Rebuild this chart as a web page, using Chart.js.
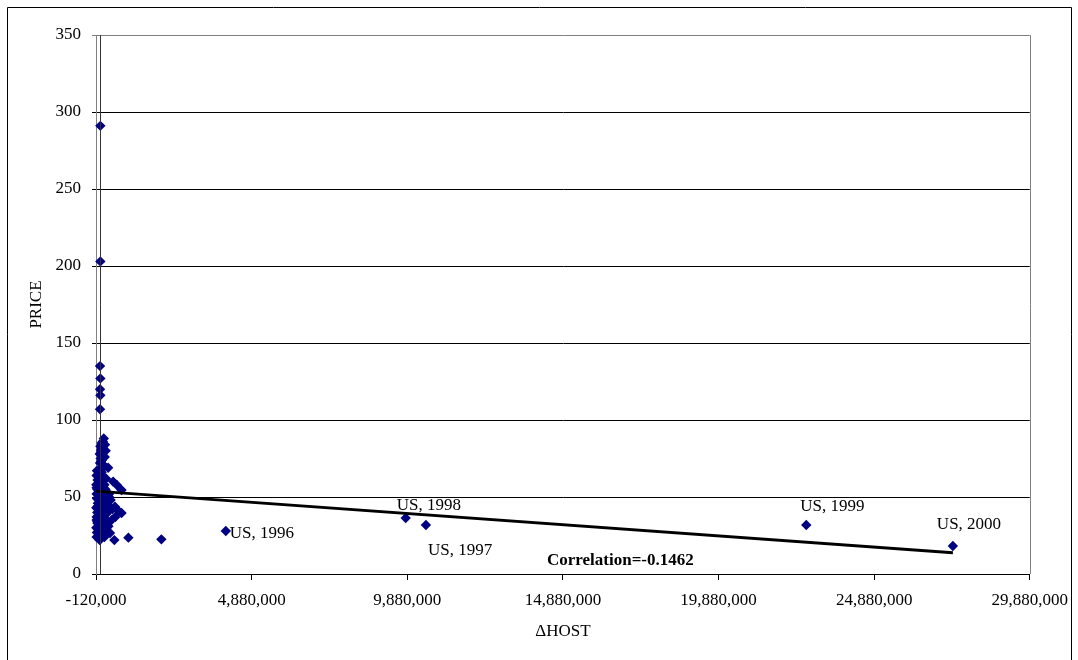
<!DOCTYPE html>
<html>
<head>
<meta charset="utf-8">
<script src="https://cdn.jsdelivr.net/npm/chart.js@4.4.1/dist/chart.umd.min.js"></script>
<style>
html,body{margin:0;padding:0;background:#fff;}
#wrap{width:1078px;height:660px;position:relative;}
</style>
</head>
<body>
<div id="wrap"><canvas id="c" width="1078" height="660"></canvas></div>
<script>
// ---- data ----
const otherHost = [
  20000, 20000, 10000, 20000, 10000, 20000, 10000,
  -80000, -100000, -50000, -60000, -100000, -30000, 0, -20000, 0, 20000, 10000, 30000, 0, 50000, 20000, 80000, 100000, 50000,
  0, 30000, 60000, 100000, 0, 40000, 80000, -20000, 120000, 20000, 60000, 100000, 0, 50000, 130000, -40000, 30000, 90000, 150000, 0,
  70000, 120000, 20000, 60000, 100000, -30000, 40000, 140000, 0, 80000, 180000, 20000, 100000, 50000, 150000, 0, 60000, 100000, 40000, 70000,
  270000, 430000, 700000, 550000, 300000, 200000, 490000, 700000, 500000, 380000, 330000, 470000, 250000, 220000, 350000, 280000, 200000,
  400000, 600000, 300000, 150000, 920000, 1980000,
  -100000, -90000, -110000, -70000, -100000, -80000, -110000, -60000, -90000, -100000, -80000, -110000, -70000, -100000, -90000,
  150000, 200000, 180000, 160000, 210000, 170000, 190000, 220000, 140000, 160000,
  60000, 90000, 40000, 70000, 110000, 30000, 80000, 120000, 60000, 90000,
  130000, 170000, 190000
];
const otherPrice = [
  291, 203, 135, 127, 120, 116, 107,
  34, 35, 42, 44, 56, 58, 60, 62, 65, 68, 72, 75, 78, 80, 83, 84, 86, 81,
  22, 23, 24, 25, 26, 27, 28, 29, 30, 31, 32, 33, 34, 36, 37, 38, 39, 40, 41, 43,
  45, 46, 47, 48, 49, 50, 51, 52, 53, 54, 55, 56, 57, 59, 58, 63, 66, 70, 73, 77,
  69, 60, 54.5, 57.8, 52, 62, 43.7, 39.6, 37, 35, 26.6, 22, 45, 40, 48, 31, 28,
  42, 41, 50, 24, 23.6, 22.5,
  24, 27, 30, 33, 37, 40, 43, 46, 49, 52, 55, 58, 61, 64, 67,
  26, 29, 33, 36, 39, 44, 47, 50, 70, 76,
  85, 82, 79, 74, 71, 67, 64, 61, 57, 53,
  88, 84, 80
];
const usHost = [4050000, 10480000, 9830000, 22700000, 27410000];
const usPrice = [27.9, 31.8, 36.4, 31.8, 18.2];
const usLabels = ["US, 1996", "US, 1997", "US, 1998", "US, 1999", "US, 2000"];
const trendHost = [-120000, 27410000];
const trendPrice = [53.8, 13.8];
const xTickValues = [-120000, 4880000, 9880000, 14880000, 19880000, 24880000, 29880000];
const yTickValues = [0, 50, 100, 150, 200, 250, 300, 350];
const correlationText = "Correlation=-0.1462";
const xTitle = "\u0394HOST";
const yTitle = "PRICE";

// ---- build ----
const FONT = "'Liberation Serif', 'Times New Roman', serif";
const pts = otherHost.map((h, i) => ({x: h, y: otherPrice[i]}))
  .concat(usHost.map((h, i) => ({x: h, y: usPrice[i]})));
const trend = trendHost.map((h, i) => ({x: h, y: trendPrice[i]}));

// label offsets (pixels) for US annotations: [dx, dy]
const labelOffsets = [[4, 2], [2, 26], [-9, -12], [-6, -18], [-16, -21]];

const decor = {
  id: 'decor',
  beforeDraw(chart) {
    const ctx = chart.ctx;
    ctx.save();
    ctx.fillStyle = '#fff';
    ctx.fillRect(0, 0, chart.width, chart.height);
    ctx.strokeStyle = '#000';
    ctx.lineWidth = 1;
    ctx.beginPath();
    ctx.moveTo(7.5, 700); ctx.lineTo(7.5, 7.5); ctx.lineTo(1071.5, 7.5); ctx.lineTo(1071.5, 700);
    ctx.stroke();
    ctx.restore();
  },
  afterDatasetsDraw(chart) {
    const ctx = chart.ctx;
    const xs = chart.scales.x;
    const a = chart.chartArea;
    ctx.save();
    ctx.strokeStyle = '#808080';
    ctx.lineWidth = 1;
    ctx.beginPath();
    ctx.moveTo(Math.round(a.right) + 0.5, a.top);
    ctx.lineTo(Math.round(a.right) + 0.5, a.bottom);
    ctx.stroke();
    const x0 = Math.round(xs.getPixelForValue(0)) + 0.5;
    ctx.strokeStyle = '#333';
    ctx.beginPath();
    ctx.moveTo(x0, a.top); ctx.lineTo(x0, a.bottom + 0.5);
    ctx.stroke();
    ctx.restore();
  },
  afterDraw(chart) {
    const ctx = chart.ctx;
    const xs = chart.scales.x, ys = chart.scales.y;
    const a = chart.chartArea;
    ctx.save();
    ctx.fillStyle = '#000';
    ctx.font = '17px ' + FONT;
    ctx.textBaseline = 'middle';
    ctx.textAlign = 'left';
    usHost.forEach((h, i) => {
      const px = xs.getPixelForValue(h), py = ys.getPixelForValue(usPrice[i]);
      ctx.fillText(usLabels[i], px + labelOffsets[i][0], py + labelOffsets[i][1]);
    });
    ctx.font = 'bold 17px ' + FONT;
    ctx.fillText(correlationText, 547, 561);
    ctx.font = '17px ' + FONT;
    ctx.textAlign = 'center';
    ctx.fillText(xTitle, (a.left + a.right) / 2, 632);
    ctx.translate(37, (a.top + a.bottom) / 2);
    ctx.rotate(-Math.PI / 2);
    ctx.fillText(yTitle, 0, 0);
    ctx.restore();
  }
};

new Chart(document.getElementById('c'), {
  data: {
    datasets: [
      {
        type: 'line', data: trend, borderColor: '#000', borderWidth: 2.8,
        pointRadius: 0, fill: false, order: 0, tension: 0
      },
      {
        type: 'scatter', data: pts, pointStyle: 'rectRot', pointRadius: 5.2,
        backgroundColor: '#000080', borderColor: '#000080', borderWidth: 0,
        order: 1, clip: false
      }
    ]
  },
  options: {
    responsive: false,
    animation: false,
    devicePixelRatio: 1,
    layout: {padding: {left: 0, top: 35, right: 48, bottom: 0}},
    plugins: {legend: {display: false}, tooltip: {enabled: false}},
    scales: {
      x: {
        type: 'linear', min: -120000, max: 29880000,
        afterFit(s) { s.height = 86; },
        afterBuildTicks(s) { s.ticks = xTickValues.map(v => ({value: v})); },
        ticks: {
          color: '#000', font: {family: FONT, size: 17}, padding: 10,
          maxRotation: 0, autoSkip: false,
          callback: v => Number(v).toLocaleString('en-US')
        },
        grid: {drawOnChartArea: false, color: '#000', tickLength: 6},
        border: {color: '#000', width: 1}
      },
      y: {
        type: 'linear', min: 0, max: 350,
        afterFit(s) { s.width = 96; },
        afterBuildTicks(s) { s.ticks = yTickValues.map(v => ({value: v})); },
        ticks: {
          color: '#000', font: {family: FONT, size: 17}, padding: 11,
          callback: v => Number(v).toLocaleString('en-US')
        },
        grid: {
          color: c => (c.tick && c.tick.value === 350) ? '#808080' : '#000',
          tickLength: 4, lineWidth: 1
        },
        border: {color: '#808080', width: 1}
      }
    }
  },
  plugins: [decor]
});
</script>
</body>
</html>
